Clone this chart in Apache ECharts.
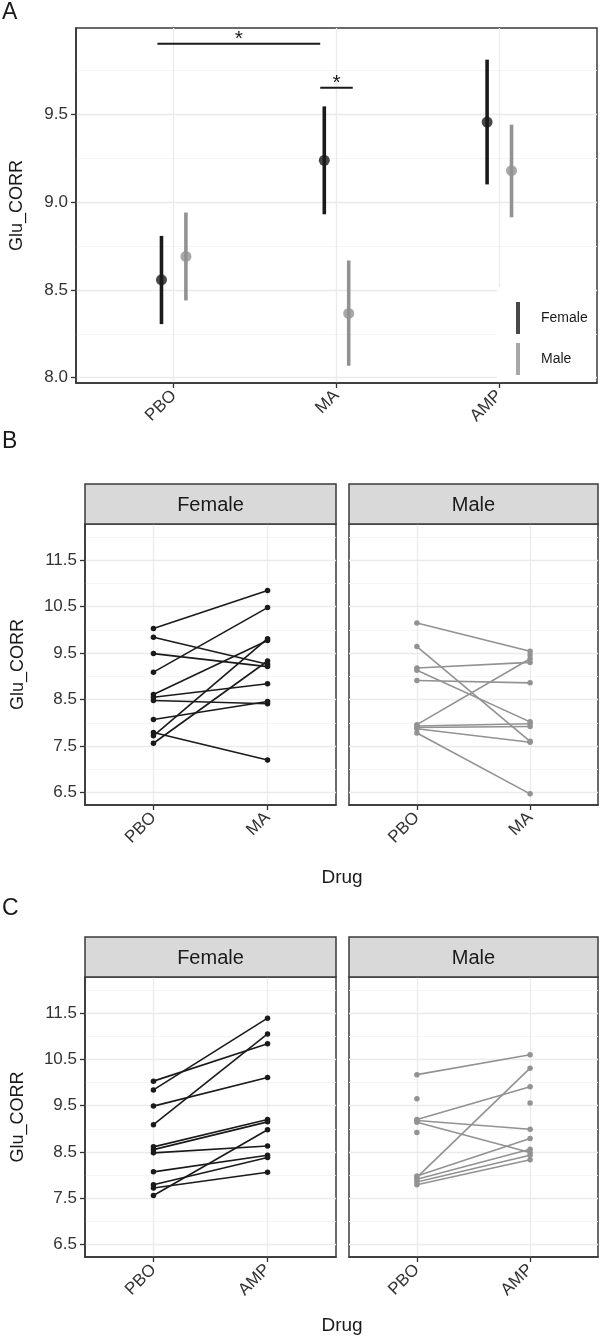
<!DOCTYPE html>
<html><head><meta charset="utf-8">
<script src="https://cdn.jsdelivr.net/npm/echarts@6/dist/echarts.min.js"></script>
<style>html,body{margin:0;padding:0;background:#fff}#c{width:600px;height:1341px}</style>
</head><body><div id="c"></div>
<script>
// ---------- data ----------
const drugsA = ['PBO', 'MA', 'AMP'];
const drugsB = ['PBO', 'MA'];
const drugsC = ['PBO', 'AMP'];
const sexes = ['Female', 'Male'];

// Panel A: estimated means with intervals
const femaleMean = [8.557, 9.237, 9.455];
const femaleLow  = [8.305, 8.930, 9.100];
const femaleHigh = [8.807, 9.544, 9.810];
const maleMean   = [8.690, 8.366, 9.178];
const maleLow    = [8.440, 8.068, 8.913];
const maleHigh   = [8.940, 8.667, 9.440];

// significance brackets (x in category units, y in Glu_CORR)
const sigStart = [0.9, 1.9];
const sigEnd   = [1.9, 2.1];
const sigY     = [9.90, 9.65];
const sigLabel = ['*', '*'];

// tick values
const yTicksA = [8.0, 8.5, 9.0, 9.5];
const yMinorA = [8.25, 8.75, 9.25, 9.75];
const yTicksBC = [6.5, 7.5, 8.5, 9.5, 10.5, 11.5];
const yMinorBC = [7.0, 8.0, 9.0, 10.0, 11.0, 12.0];

// Panel B: individual subjects PBO vs MA
const bFemalePBO = [10.03, 9.84, 9.49, 9.09, 8.61, 8.55, 8.48, 8.07, 7.79, 7.72, 7.56];
const bFemaleMA  = [10.85, 9.26, 9.21, 10.48, 9.77, 8.84, 8.41, 8.46, 7.20, 9.81, 9.33];
const bMalePBO   = [10.15, 9.64, 9.18, 9.13, 8.91, 7.96, 7.93, 7.90, 7.87, 7.78, null];
const bMaleMA    = [9.54, 7.60, 9.30, 8.02, 8.86, 9.38, 7.98, 7.92, 7.58, 6.47, 9.46];

// Panel C: individual subjects PBO vs AMP
const cFemalePBO = [10.03, 9.84, 9.49, 9.09, 8.61, 8.55, 8.48, 8.07, 7.79, 7.72, 7.56];
const cFemaleAMP = [10.84, 11.39, 10.11, 11.05, 9.20, 9.15, 8.63, 8.43, 8.38, 8.06, 8.98];
const cMalePBO   = [10.17, 7.95, 9.20, 9.18, 9.14, 7.98, 7.91, 7.85, 7.79, 9.65, 8.92, null];
const cMaleAMP   = [10.60, 10.31, 9.91, 8.99, 8.49, 8.79, 8.56, 8.43, 8.33, null, null, 9.56];

// ---------- styling ----------
const FONT = '"Liberation Sans", Arial, Helvetica, sans-serif';
const BLACK = '#1a1a1a';
const GREY = '#929292';
const TXT = '#333333';

const grids = [
  {left: 75, top: 28, width: 522, height: 355},
  {left: 85, top: 524, width: 251, height: 281},
  {left: 349, top: 524, width: 249, height: 281},
  {left: 85, top: 977, width: 251, height: 280},
  {left: 349, top: 977, width: 249, height: 280}
].map(g => Object.assign(g, {show: true, borderColor: '#3a3a3a', borderWidth: 1.5, backgroundColor: 'transparent'}));

function xAx(gi, cats) {
  const vals = cats.map((c, i) => i + 1);
  return {
    type: 'value', gridIndex: gi, min: 0.4, max: cats.length + 0.6,
    axisLine: {show: true, onZero: false, lineStyle: {color: '#333', width: 1.5}},
    axisTick: {show: true, length: 5, customValues: vals, lineStyle: {color: '#333', width: 1.3}},
    axisLabel: {customValues: vals, formatter: v => cats[Math.round(v) - 1], rotate: 45, margin: 10,
      fontSize: 17, color: TXT, fontFamily: FONT},
    splitLine: {show: true, lineStyle: {color: '#ebebeb', width: 1.3}}
  };
}
function yMajor(gi, min, max, ticks, left, name, gap) {
  return {
    type: 'value', gridIndex: gi, min: min, max: max,
    name: left ? name : '', nameLocation: 'middle', nameGap: gap,
    nameTextStyle: {fontSize: 18, color: BLACK, fontFamily: FONT},
    axisLine: {show: left, onZero: false, lineStyle: {color: '#333', width: 1.5}},
    axisTick: {show: left, length: 5, customValues: ticks, lineStyle: {color: '#333', width: 1.3}},
    axisLabel: {show: left, customValues: ticks, formatter: v => v.toFixed(1), margin: 8,
      fontSize: 17, color: TXT, fontFamily: FONT},
    splitLine: {show: true, lineStyle: {color: '#ebebeb', width: 1.3}}
  };
}
function yMinor(gi, min, max, ticks) {
  return {
    type: 'value', gridIndex: gi, min: min, max: max,
    axisLine: {show: false}, axisTick: {show: false, customValues: ticks},
    axisLabel: {show: false, customValues: ticks},
    splitLine: {show: true, lineStyle: {color: '#f2f2f2', width: 0.8}}
  };
}

const yMinBC = 6.23, yMaxBC = 12.28;
const xAxes = [xAx(0, drugsA), xAx(1, drugsB), xAx(2, drugsB), xAx(3, drugsC), xAx(4, drugsC)];
const yAxes = [
  yMajor(0, 7.97, 9.99, yTicksA, true, 'Glu_CORR', 50),
  yMajor(1, yMinBC, yMaxBC, yTicksBC, true, 'Glu_CORR', 58),
  yMajor(2, yMinBC, yMaxBC, yTicksBC, false),
  yMajor(3, yMinBC, yMaxBC, yTicksBC, true, 'Glu_CORR', 58),
  yMajor(4, yMinBC, yMaxBC, yTicksBC, false),
  yMinor(0, 7.97, 9.99, yMinorA),
  yMinor(1, yMinBC, yMaxBC, yMinorBC),
  yMinor(2, yMinBC, yMaxBC, yMinorBC),
  yMinor(3, yMinBC, yMaxBC, yMinorBC),
  yMinor(4, yMinBC, yMaxBC, yMinorBC)
];

const DODGE = 0.075;
function errSeries(name, lows, highs, off, color) {
  return {
    type: 'custom', name: name, xAxisIndex: 0, yAxisIndex: 0, z: 3, silent: true,
    data: lows.map((l, i) => [i + 1 + off, l, highs[i]]),
    encode: {x: 0, y: [1, 2]},
    renderItem: (p, api) => {
      const a = api.coord([api.value(0), api.value(1)]);
      const b = api.coord([api.value(0), api.value(2)]);
      return {type: 'line', shape: {x1: a[0], y1: a[1], x2: b[0], y2: b[1]},
        style: {stroke: color, lineWidth: 3.6}};
    }
  };
}
function meanSeries(name, means, off, color) {
  return {
    type: 'scatter', name: name, xAxisIndex: 0, yAxisIndex: 0, z: 4, silent: true,
    symbol: 'circle', symbolSize: 11, itemStyle: {color: color},
    data: means.map((m, i) => [i + 1 + off, m])
  };
}
function pairSeries(xi, a, b, color) {
  return a.map((v, i) => ({
    type: 'line', xAxisIndex: xi, yAxisIndex: xi, z: 3, silent: true,
    data: [[1, v], [2, b[i]]],
    symbol: 'circle', symbolSize: 5.5, showSymbol: true, connectNulls: false,
    lineStyle: {color: color, width: 1.6}, itemStyle: {color: color}
  }));
}

const series = [
  errSeries('Female bars', femaleLow, femaleHigh, -DODGE, BLACK),
  errSeries('Male bars', maleLow, maleHigh, DODGE, GREY),
  meanSeries('Female', femaleMean, -DODGE, BLACK),
  meanSeries('Male', maleMean, DODGE, GREY),
  {
    type: 'custom', xAxisIndex: 0, yAxisIndex: 0, z: 4, silent: true,
    data: sigY.map((y, i) => [sigStart[i], sigEnd[i], y]),
    encode: {x: [0, 1], y: 2},
    renderItem: (p, api) => {
      const a = api.coord([api.value(0), api.value(2)]);
      const b = api.coord([api.value(1), api.value(2)]);
      return {type: 'group', children: [
        {type: 'line', shape: {x1: a[0], y1: a[1], x2: b[0], y2: b[1]}, style: {stroke: BLACK, lineWidth: 2}},
        {type: 'text', x: (a[0] + b[0]) / 2, y: a[1] - 5,
          style: {text: sigLabel[p.dataIndex], fontSize: 21, fontFamily: FONT, fill: BLACK, align: 'center', verticalAlign: 'middle'}}
      ]};
    }
  }
].concat(
  pairSeries(1, bFemalePBO, bFemaleMA, BLACK),
  pairSeries(2, bMalePBO, bMaleMA, GREY),
  pairSeries(3, cFemalePBO, cFemaleAMP, BLACK),
  pairSeries(4, cMalePBO, cMaleAMP, GREY)
);

function strip(g, label, top) {
  return [
    {type: 'rect', shape: {x: g.left, y: top, width: g.width, height: 40},
      style: {fill: '#d9d9d9', stroke: '#3a3a3a', lineWidth: 1.5}, z: 10},
    {type: 'text', x: g.left + g.width / 2, y: top + 21,
      style: {text: label, fontSize: 20, fontFamily: FONT, fill: BLACK, align: 'center', verticalAlign: 'middle'}, z: 11}
  ];
}
const graphics = [
  {type: 'text', x: 2, y: 1, style: {text: 'A', fontSize: 23, fontFamily: FONT, fill: BLACK}},
  {type: 'text', x: 2, y: 430, style: {text: 'B', fontSize: 23, fontFamily: FONT, fill: BLACK}},
  {type: 'text', x: 2, y: 897, style: {text: 'C', fontSize: 23, fontFamily: FONT, fill: BLACK}},
  {type: 'text', x: 342, y: 878, style: {text: 'Drug', fontSize: 19, fontFamily: FONT, fill: BLACK, align: 'center', verticalAlign: 'middle'}},
  {type: 'text', x: 342, y: 1326, style: {text: 'Drug', fontSize: 19, fontFamily: FONT, fill: BLACK, align: 'center', verticalAlign: 'middle'}}
].concat(
  strip(grids[1], sexes[0], 484), strip(grids[2], sexes[1], 484),
  strip(grids[3], sexes[0], 937), strip(grids[4], sexes[1], 937)
);

const chart = echarts.init(document.getElementById('c'), null, {renderer: 'canvas'});
chart.setOption({
  animation: false,
  backgroundColor: '#ffffff',
  textStyle: {fontFamily: FONT},
  grid: grids,
  xAxis: xAxes,
  yAxis: yAxes,
  legend: {
    data: sexes, orient: 'vertical', left: 497, top: 287,
    padding: [15, 8, 7, 19], itemWidth: 4, itemHeight: 32, itemGap: 9,
    icon: 'rect', backgroundColor: '#ffffff', selectedMode: false,
    textStyle: {fontSize: 14, color: BLACK, fontFamily: FONT, padding: [0, 0, 0, 16]}
  },
  graphic: graphics,
  series: series
});
</script></body></html>
